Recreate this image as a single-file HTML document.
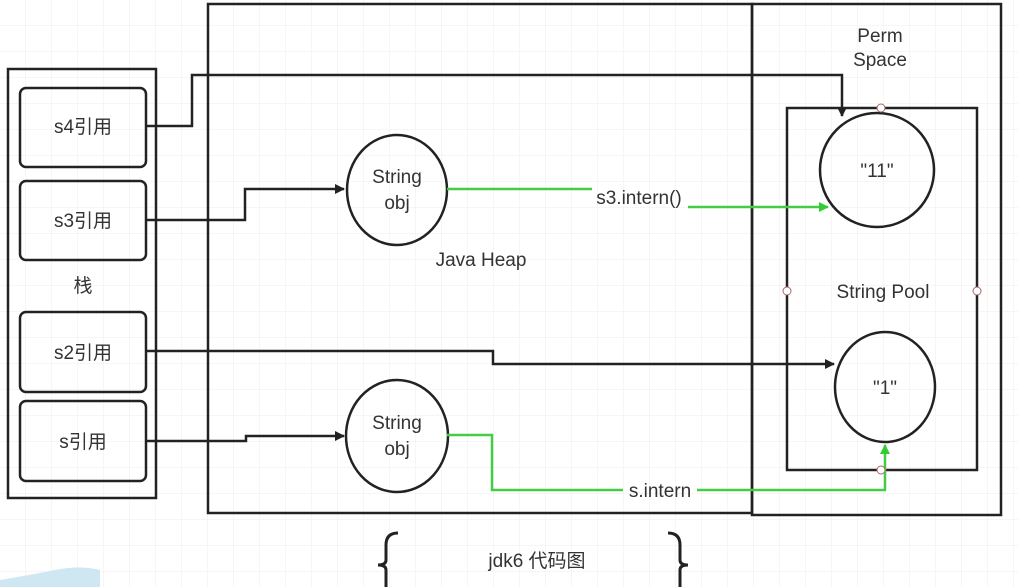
<!DOCTYPE html>
<html><head><meta charset="utf-8"><style>
html,body{margin:0;padding:0;background:#fff;}
svg{display:block}
text{font-family:"Liberation Sans","Noto Sans CJK SC",sans-serif;fill:#333;font-size:19px}
</style></head><body>
<svg width="1018" height="587" viewBox="0 0 1018 587" xmlns="http://www.w3.org/2000/svg">
<defs>
<pattern id="g" width="26" height="26" patternUnits="userSpaceOnUse">
<path d="M26 0V26H0" fill="none" stroke="#eee" stroke-width="1"/>
</pattern>
<marker id="ab" markerWidth="10" markerHeight="10" refX="9" refY="5" orient="auto" markerUnits="userSpaceOnUse"><path d="M0,0L10,5L0,10z" fill="#222"/></marker>
<marker id="ag" markerWidth="10" markerHeight="10" refX="9" refY="5" orient="auto" markerUnits="userSpaceOnUse"><path d="M0,0L10,5L0,10z" fill="#3c3"/></marker>
</defs>
<rect width="1018" height="587" fill="url(#g)"/>
<path d="M0 580 Q30 575 55 570 T100 570 L100 587 L0 587z" fill="#cfe6f3"/>
<g fill="none" stroke="#222" stroke-width="2.5">
<rect x="8" y="69" width="148" height="429"/>
<rect x="20" y="88" width="126" height="79" rx="6"/>
<rect x="20" y="181" width="126" height="79" rx="6"/>
<rect x="20" y="312" width="126" height="80" rx="6"/>
<rect x="20" y="401" width="126" height="80" rx="6"/>
<rect x="208" y="4" width="544" height="509"/>
<rect x="752" y="4" width="249" height="511"/>
<rect x="787" y="108" width="190" height="362"/>
<ellipse cx="877" cy="170" rx="57" ry="57"/>
<ellipse cx="885" cy="387" rx="50" ry="55"/>
<ellipse cx="397" cy="190" rx="50" ry="55"/>
<ellipse cx="397" cy="436" rx="51" ry="56"/>
</g>
<g fill="none" stroke="#222" stroke-width="2.5">
<path d="M146 126H192V75H842V116" marker-end="url(#ab)"/>
<path d="M146 220H245V189H344" marker-end="url(#ab)"/>
<path d="M146 351H493V364H834" marker-end="url(#ab)"/>
<path d="M146 441H246V436H344" marker-end="url(#ab)"/>
</g>
<g fill="none" stroke="#4c4" stroke-width="2.5">
<path d="M447 189H592"/>
<path d="M688 207H828" marker-end="url(#ag)"/>
<path d="M447 435H492V490H623M697 490H885V445" marker-end="url(#ag)"/>
</g>
<g fill="#fff" stroke="#a66" stroke-width="1">
<circle cx="881" cy="108" r="4"/><circle cx="787" cy="291" r="4"/><circle cx="977" cy="291" r="4"/><circle cx="881" cy="470" r="4"/>
</g>
<g text-anchor="middle">
<text x="83" y="133">s4引用</text>
<text x="83" y="227">s3引用</text>
<text x="83" y="292">栈</text>
<text x="83" y="359">s2引用</text>
<text x="83" y="448">s引用</text>
<text x="397" y="183">String</text><text x="397" y="209">obj</text>
<text x="397" y="429">String</text><text x="397" y="455">obj</text>
<text x="481" y="266">Java Heap</text>
<text x="880" y="42">Perm</text><text x="880" y="66">Space</text>
<text x="877" y="177">"11"</text>
<text x="883" y="298">String Pool</text>
<text x="885" y="394">"1"</text>
<text x="639" y="204">s3.intern()</text>
<text x="660" y="497">s.intern</text>
<text x="537" y="567">jdk6 代码图</text>
</g>
<g fill="none" stroke="#222" stroke-width="3">
<path d="M398 533Q386 533 386 545V560Q386 565 378 565Q386 565 386 570V587"/>
<path d="M668 533Q680 533 680 545V560Q680 565 688 565Q680 565 680 570V587"/>
</g>
</svg>
</body></html>
